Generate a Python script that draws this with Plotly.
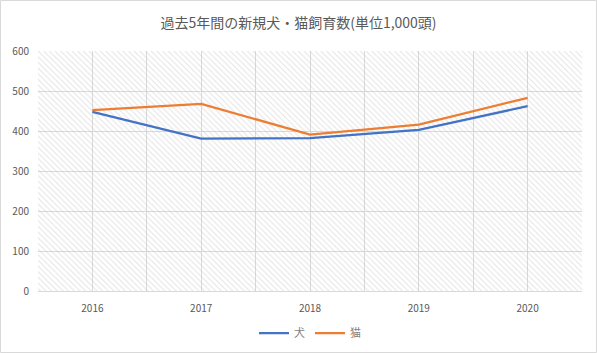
import plotly.graph_objects as go

years = ["2016", "2017", "2018", "2019", "2020"]
dogs = [448, 381, 382, 403, 462]
cats = [452, 468, 391, 416, 483]
y_ticks = [0, 100, 200, 300, 400, 500, 600]

title_text = "過去5年間の新規犬・猫飼育数(単位1,000頭)"
font_family = "Noto Sans CJK JP, Noto Sans, sans-serif"
grey_text = "#595959"
grid = "#D9D9D9"

xs = list(range(len(years)))
x_lo, x_hi = -0.5, len(years) - 0.5
y_lo, y_hi = y_ticks[0], y_ticks[-1]

fig = go.Figure()

# hatched plot-area background
fig.add_trace(go.Scatter(
    x=[x_lo, x_hi, x_hi, x_lo, x_lo],
    y=[y_lo, y_lo, y_hi, y_hi, y_lo],
    mode="none", fill="toself",
    fillcolor="rgba(0,0,0,0)",
    fillpattern=dict(shape="\\", size=4, solidity=0.25, fgcolor="#C8C8C8",
                     bgcolor="rgba(0,0,0,0)", fillmode="overlay"),
    showlegend=False, hoverinfo="skip",
))

fig.add_trace(go.Scatter(x=xs, y=dogs, name="犬", mode="lines",
                         line=dict(color="#4472C4", width=2.25)))
fig.add_trace(go.Scatter(x=xs, y=cats, name="猫", mode="lines",
                         line=dict(color="#ED7D31", width=2.25)))

fig.update_layout(
    width=597, height=353,
    margin=dict(l=38, r=15, t=51, b=62, autoexpand=False),
    paper_bgcolor="white", plot_bgcolor="white",
    font=dict(family=font_family, color=grey_text, size=10),
    title=dict(text=title_text, x=0.5, xanchor="center",
               yref="container", y=1 - 23 / 353, yanchor="middle",
               font=dict(size=14, color=grey_text, family=font_family)),
    showlegend=True,
    legend=dict(orientation="h", x=0.5, xanchor="center",
                yref="container", y=1 - 333 / 353, yanchor="middle",
                font=dict(size=11, color="#7F7F7F"), itemwidth=30,
                bgcolor="rgba(0,0,0,0)"),
    shapes=[dict(type="rect", xref="paper", yref="paper", x0=-37.5/544, x1=1+14.5/544,
                 y0=-61.5/240, y1=1+50.5/240, line=dict(color=grid, width=1),
                 fillcolor="rgba(0,0,0,0)", layer="above")],
)

fig.update_xaxes(
    range=[x_lo, x_hi], tickvals=xs, ticktext=years,
    showgrid=True, gridcolor=grid, gridwidth=1,
    minor=dict(dtick=0.5, tick0=0, showgrid=True, gridcolor=grid, gridwidth=1),
    showline=True, linecolor=grid, linewidth=1,
    zeroline=False, ticks="", ticklabelstandoff=8, automargin=False,
    tickfont=dict(size=10, color=grey_text), fixedrange=True,
)
fig.update_yaxes(
    range=[y_lo, y_hi], tickvals=y_ticks,
    showgrid=True, gridcolor=grid, gridwidth=1,
    zeroline=False, showline=False, ticks="", ticklabelstandoff=8, automargin=False,
    tickfont=dict(size=10, color=grey_text), fixedrange=True,
)

fig.write_html("out.html")
